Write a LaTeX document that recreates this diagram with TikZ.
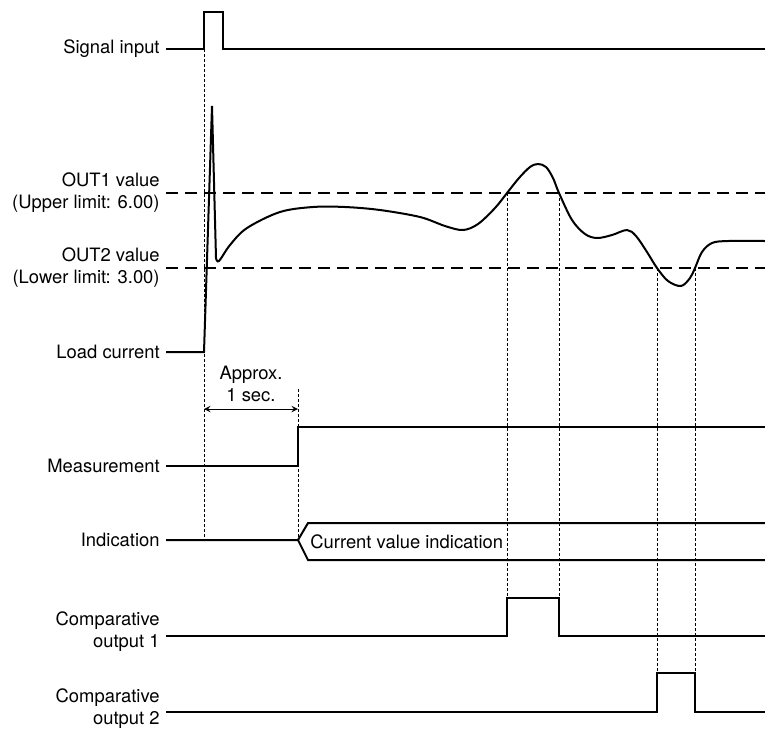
\documentclass[tikz,border=0pt]{standalone}
\usepackage{fontspec}
\setmainfont{TeX Gyre Heros}
\begin{document}
\begin{tikzpicture}[x=0.5pt, y=-0.5pt, >=stealth, font=\fontsize{9.2}{11}\selectfont]
	\tikzset{
		wave/.style={line width=1pt, line join=miter},
		limit/.style={line width=1.1pt, dash pattern=on 6pt off 3.5pt},
		guide/.style={line width=0.45pt, dash pattern=on 1.5pt off 1pt},
		lbl/.style={anchor=east, inner sep=0pt, align=right},
	}
	\useasboundingbox (0,0) rectangle (765,730);

	% labels on the left
	\node[lbl] (sig) at (160,49) {Signal input};
	\node[lbl] (out1) at (160,193) {OUT1 value\\(Upper limit: 6.00)};
	\node[lbl] (out2) at (160,268) {OUT2 value\\(Lower limit: 3.00)};
	\node[lbl] (load) at (160,352) {Load current};
	\node[lbl] (meas) at (160,466) {Measurement};
	\node[lbl] (ind) at (160,540) {Indication};
	\node[lbl] (cmp1) at (160,632) {Comparative\\output 1};
	\node[lbl] (cmp2) at (160,709) {Comparative\\output 2};

	% timing guides
	\draw[guide] (204,49) -- (204,540);
	\draw[guide] (298,389) -- (298,540);
	\foreach \x/\ya/\yb in {507/193/598, 559/193/598, 657/268/673, 695/268/673}{
		\draw[guide] (\x,\ya) -- (\x,\yb);
	}

	% limits
	\draw[limit] ([xshift=3pt]out1.east) -- (765,193);
	\draw[limit] ([xshift=3pt]out2.east) -- (765,268);

	% signal input
	\draw[wave] ([xshift=3pt]sig.east) -- (204,49) -- (204,12) -- (223,12) -- (223,49) -- (765,49);

	% load current
	\draw[wave] ([xshift=3pt]load.east) -- (204,352) -- (212,106) -- (216,258);
	\draw[wave] plot[smooth, tension=0.55] coordinates {(216,258) (219,261) (230,245) (247,228) (280,212) (313,207)
		(345,207) (380,210) (420,217) (445,226) (463,230) (478,224) (495,208) (507,193) (519,178)
		(530,167) (538,164) (546,167) (553,178) (559,193) (572,220) (585,234) (597,238) (612,235) (627,230) (636,236)
		(647,252) (657,268) (668,281) (681,286) (690,278) (695,268) (702,252) (712,243) (728,241) (765,241)};

	% 1 sec delay
	\draw[<->, line width=0.45pt] (204,409) -- (298,409);
	\node[align=center, inner sep=0pt] (delay) at (251,384) {Approx.\\1 sec.};

	% measurement
	\draw[wave] ([xshift=3pt]meas.east) -- (298,466) -- (298,427) -- (765,427);

	% indication
	\draw[wave] ([xshift=3pt]ind.east) -- (298,540) -- (308,523) -- (765,523);
	\draw[wave] (298,540) -- (308,560) -- (765,560);
	\node[anchor=west, inner sep=0pt] (cur) at (310,542) {Current value indication};

	% comparative outputs
	\draw[wave] ([xshift=3pt, yshift=-2pt]cmp1.east) -- (507,636) -- (507,598) -- (559,598) -- (559,636) -- (765,636);
	\draw[wave] ([xshift=3pt, yshift=-1.5pt]cmp2.east) -- (657,712) -- (657,673) -- (695,673) -- (695,712) -- (765,712);
\end{tikzpicture}
\end{document}
